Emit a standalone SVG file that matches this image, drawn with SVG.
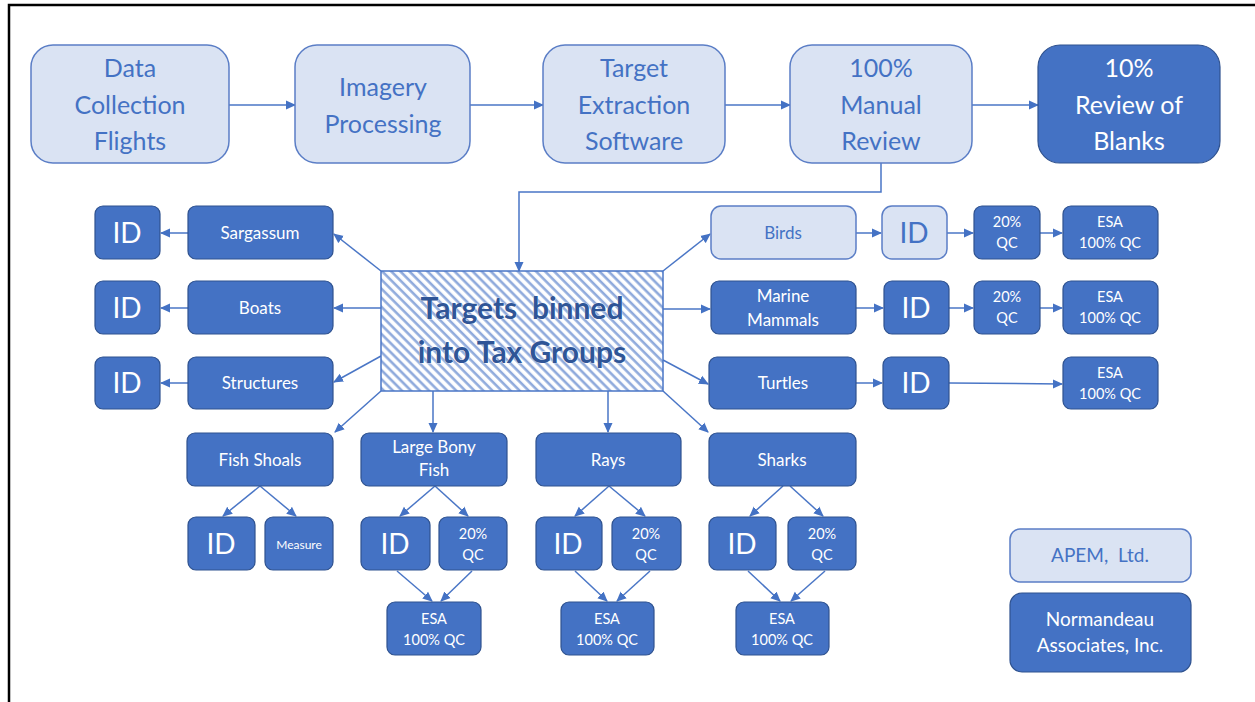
<svg xmlns="http://www.w3.org/2000/svg" width="1255" height="702" viewBox="0 0 1255 702">
<style>
text{font-family:Lato,"Noto Sans","Liberation Sans",sans-serif;text-anchor:middle}
.lt{fill:#dae3f3;stroke:#5b7ec6;stroke-width:1.5}
.dk{fill:#4472c4;stroke:#2f528f;stroke-width:1.2}
.tl{fill:#4472c4}
.tw{fill:#ffffff}
.big{font-size:25px}
.id{font-size:28px}
.md{font-size:17px}
.sm{font-size:14.5px}
.xs{font-size:12px}
.con line,.con polyline{stroke:#4a76c6;stroke-width:1.5;fill:none;marker-end:url(#ah)}
</style>
<defs>
<marker id="ah" markerWidth="10" markerHeight="10" refX="9" refY="5" orient="auto" markerUnits="userSpaceOnUse">
<path d="M0,0.5 L10,5 L0,9.5 Z" fill="#4472c4"/>
</marker>
<pattern id="hatch" patternUnits="userSpaceOnUse" width="6.4" height="6.4" patternTransform="rotate(-45)">
<rect width="6.4" height="6.4" fill="#ffffff"/>
<line x1="1.6" y1="0" x2="1.6" y2="6.4" stroke="#8faadc" stroke-width="2.6"/>
</pattern>
</defs>
<rect width="1255" height="702" fill="#ffffff"/>
<path d="M9,702 V5 H1255" fill="none" stroke="#000" stroke-width="2.5"/>

<g class="con">
<line x1="229" y1="105" x2="295" y2="105"/>
<line x1="470" y1="105" x2="543" y2="105"/>
<line x1="725" y1="105" x2="790" y2="105"/>
<line x1="972" y1="105" x2="1038" y2="105"/>
<polyline points="881,163 881,192 519,192 519,271"/>
<line x1="381" y1="271" x2="334" y2="234"/>
<line x1="381" y1="308" x2="334" y2="308"/>
<line x1="381" y1="356" x2="334" y2="382"/>
<line x1="188" y1="233" x2="161" y2="233"/>
<line x1="188" y1="308" x2="161" y2="308"/>
<line x1="188" y1="383" x2="161" y2="383"/>
<line x1="663" y1="271" x2="710" y2="234"/>
<line x1="663" y1="309" x2="710" y2="309"/>
<line x1="663" y1="360" x2="708" y2="384"/>
<line x1="856" y1="233" x2="881" y2="233"/>
<line x1="947" y1="233" x2="973" y2="233"/>
<line x1="1040" y1="233" x2="1062" y2="233"/>
<line x1="856" y1="308" x2="883" y2="308"/>
<line x1="949" y1="308" x2="973" y2="308"/>
<line x1="1040" y1="308" x2="1062" y2="308"/>
<line x1="856" y1="383" x2="882" y2="383"/>
<line x1="949" y1="383" x2="1062" y2="384"/>
<line x1="381" y1="391" x2="335" y2="432"/>
<line x1="433" y1="391" x2="433" y2="432"/>
<line x1="608" y1="391" x2="608" y2="432"/>
<line x1="663" y1="391" x2="708" y2="432"/>
<line x1="260" y1="486" x2="223" y2="516"/>
<line x1="260" y1="486" x2="296" y2="516"/>
<line x1="435" y1="486" x2="400" y2="516"/>
<line x1="435" y1="486" x2="468" y2="516"/>
<line x1="397" y1="571" x2="432" y2="601"/>
<line x1="472" y1="571" x2="441" y2="601"/>
<line x1="609" y1="486" x2="575" y2="516"/>
<line x1="609" y1="486" x2="645" y2="516"/>
<line x1="575" y1="571" x2="607" y2="601"/>
<line x1="650" y1="571" x2="617" y2="601"/>
<line x1="783" y1="486" x2="750" y2="516"/>
<line x1="790" y1="486" x2="823" y2="516"/>
<line x1="748" y1="571" x2="780" y2="601"/>
<line x1="825" y1="571" x2="791" y2="601"/>
</g>

<g id="n-data"><rect class="lt" x="31" y="45" width="198" height="118" rx="22"/>
<text class="tl big" x="130" y="77">Data</text><text class="tl big" x="130" y="114">Collection</text><text class="tl big" x="130" y="150">Flights</text></g>
<g id="n-imagery"><rect class="lt" x="295" y="45" width="175" height="118" rx="22"/>
<text class="tl big" x="383" y="96">Imagery</text><text class="tl big" x="383" y="133">Processing</text></g>
<g id="n-target"><rect class="lt" x="543" y="45" width="182" height="118" rx="22"/>
<text class="tl big" x="634" y="77">Target</text><text class="tl big" x="634" y="114">Extraction</text><text class="tl big" x="634" y="150">Software</text></g>
<g id="n-manual"><rect class="lt" x="790" y="45" width="182" height="118" rx="22"/>
<text class="tl big" x="881" y="77">100%</text><text class="tl big" x="881" y="114">Manual</text><text class="tl big" x="881" y="150">Review</text></g>
<g id="n-blanks"><rect class="dk" x="1038" y="45" width="182" height="118" rx="22"/>
<text class="tw big" x="1129" y="77">10%</text><text class="tw big" x="1129" y="114">Review of</text><text class="tw big" x="1129" y="150">Blanks</text></g>

<g id="n-bins"><rect x="381" y="271" width="282" height="120" fill="url(#hatch)" stroke="#4a76c6" stroke-width="1.5"/>
<text x="522" y="319" font-size="30" font-weight="bold" fill="#2f5597" stroke="#ffffff" stroke-width="0.6" paint-order="stroke">Targets&#160; binned</text>
<text x="522" y="363" font-size="30" font-weight="bold" fill="#2f5597" stroke="#ffffff" stroke-width="0.6" paint-order="stroke">into Tax Groups</text></g>

<g id="n-id-sarg"><rect class="dk" x="95" y="206" width="65" height="53" rx="8"/><text class="tw id" x="127" y="243">ID</text></g>
<g id="n-sarg"><rect class="dk" x="188" y="206" width="145" height="53" rx="8"/><text class="tw md" x="260" y="239">Sargassum</text></g>
<g id="n-id-boats"><rect class="dk" x="95" y="281" width="65" height="53" rx="8"/><text class="tw id" x="127" y="318">ID</text></g>
<g id="n-boats"><rect class="dk" x="188" y="281" width="145" height="53" rx="8"/><text class="tw md" x="260" y="314">Boats</text></g>
<g id="n-id-struct"><rect class="dk" x="95" y="357" width="65" height="52" rx="8"/><text class="tw id" x="127" y="393">ID</text></g>
<g id="n-struct"><rect class="dk" x="188" y="357" width="145" height="52" rx="8"/><text class="tw md" x="260" y="389">Structures</text></g>

<g id="n-birds"><rect class="lt" x="711" y="206" width="145" height="53" rx="10"/><text class="tl md" x="783" y="239">Birds</text></g>
<g id="n-id-birds"><rect class="lt" x="882" y="206" width="65" height="53" rx="10"/><text class="tl id" x="914" y="243">ID</text></g>
<g id="n-qc-birds"><rect class="dk" x="974" y="206" width="66" height="53" rx="8"/><text class="tw sm" x="1007" y="227">20%</text><text class="tw sm" x="1007" y="248">QC</text></g>
<g id="n-esa-birds"><rect class="dk" x="1063" y="206" width="95" height="53" rx="8"/><text class="tw sm" x="1110" y="227">ESA</text><text class="tw sm" x="1110" y="248">100% QC</text></g>

<g id="n-mm"><rect class="dk" x="711" y="281" width="145" height="53" rx="8"/><text class="tw md" x="783" y="302">Marine</text><text class="tw md" x="783" y="326">Mammals</text></g>
<g id="n-id-mm"><rect class="dk" x="884" y="281" width="65" height="53" rx="8"/><text class="tw id" x="916" y="318">ID</text></g>
<g id="n-qc-mm"><rect class="dk" x="974" y="281" width="66" height="53" rx="8"/><text class="tw sm" x="1007" y="302">20%</text><text class="tw sm" x="1007" y="323">QC</text></g>
<g id="n-esa-mm"><rect class="dk" x="1063" y="281" width="95" height="53" rx="8"/><text class="tw sm" x="1110" y="302">ESA</text><text class="tw sm" x="1110" y="323">100% QC</text></g>

<g id="n-turtles"><rect class="dk" x="709" y="357" width="147" height="52" rx="8"/><text class="tw md" x="783" y="389">Turtles</text></g>
<g id="n-id-turtles"><rect class="dk" x="883" y="357" width="66" height="52" rx="8"/><text class="tw id" x="916" y="393">ID</text></g>
<g id="n-esa-turtles"><rect class="dk" x="1063" y="357" width="95" height="52" rx="8"/><text class="tw sm" x="1110" y="378">ESA</text><text class="tw sm" x="1110" y="399">100% QC</text></g>

<g id="n-fish"><rect class="dk" x="187" y="433" width="146" height="53" rx="8"/><text class="tw md" x="260" y="466">Fish Shoals</text></g>
<g id="n-id-fish"><rect class="dk" x="188" y="517" width="67" height="53" rx="8"/><text class="tw id" x="221" y="554">ID</text></g>
<g id="n-measure"><rect class="dk" x="265" y="517" width="68" height="53" rx="8"/><text class="tw xs" x="299" y="549">Measure</text></g>

<g id="n-lbf"><rect class="dk" x="361" y="433" width="146" height="53" rx="8"/><text class="tw md" x="434" y="453">Large Bony</text><text class="tw md" x="434" y="476">Fish</text></g>
<g id="n-id-lbf"><rect class="dk" x="361" y="517" width="69" height="53" rx="8"/><text class="tw id" x="395" y="554">ID</text></g>
<g id="n-qc-lbf"><rect class="dk" x="439" y="517" width="68" height="53" rx="8"/><text class="tw sm" x="473" y="539">20%</text><text class="tw sm" x="473" y="560">QC</text></g>
<g id="n-esa-lbf"><rect class="dk" x="387" y="602" width="94" height="53" rx="8"/><text class="tw sm" x="434" y="624">ESA</text><text class="tw sm" x="434" y="645">100% QC</text></g>

<g id="n-rays"><rect class="dk" x="536" y="433" width="145" height="53" rx="8"/><text class="tw md" x="608" y="466">Rays</text></g>
<g id="n-id-rays"><rect class="dk" x="536" y="517" width="66" height="53" rx="8"/><text class="tw id" x="568" y="554">ID</text></g>
<g id="n-qc-rays"><rect class="dk" x="612" y="517" width="69" height="53" rx="8"/><text class="tw sm" x="646" y="539">20%</text><text class="tw sm" x="646" y="560">QC</text></g>
<g id="n-esa-rays"><rect class="dk" x="561" y="602" width="93" height="53" rx="8"/><text class="tw sm" x="607" y="624">ESA</text><text class="tw sm" x="607" y="645">100% QC</text></g>

<g id="n-sharks"><rect class="dk" x="709" y="433" width="147" height="53" rx="8"/><text class="tw md" x="782" y="466">Sharks</text></g>
<g id="n-id-sharks"><rect class="dk" x="709" y="517" width="67" height="53" rx="8"/><text class="tw id" x="742" y="554">ID</text></g>
<g id="n-qc-sharks"><rect class="dk" x="788" y="517" width="68" height="53" rx="8"/><text class="tw sm" x="822" y="539">20%</text><text class="tw sm" x="822" y="560">QC</text></g>
<g id="n-esa-sharks"><rect class="dk" x="736" y="602" width="93" height="53" rx="8"/><text class="tw sm" x="782" y="624">ESA</text><text class="tw sm" x="782" y="645">100% QC</text></g>

<g id="legend-apem"><rect class="lt" x="1010" y="529" width="181" height="53" rx="10"/><text class="tl" font-size="19" x="1100" y="562">APEM,&#160; Ltd.</text></g>
<g id="legend-normandeau"><rect class="dk" x="1010" y="593" width="181" height="79" rx="12"/><text class="tw" font-size="19" x="1100" y="626">Normandeau</text><text class="tw" font-size="19" x="1100" y="652">Associates, Inc.</text></g>
</svg>
